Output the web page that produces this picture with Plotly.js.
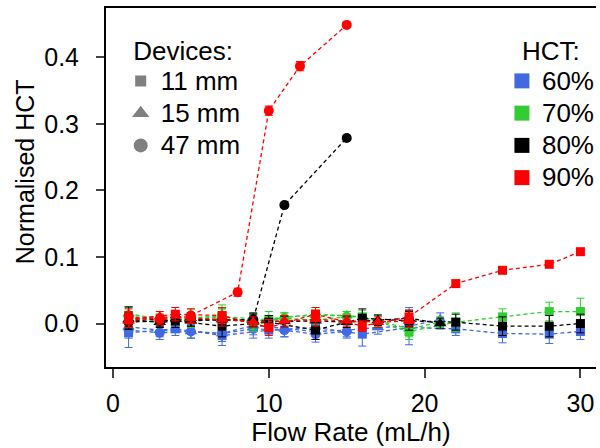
<!DOCTYPE html>
<html>
<head>
<meta charset="utf-8">
<script src="https://cdn.plot.ly/plotly-3.0.1.min.js"></script>
<style>html,body{margin:0;padding:0;background:#fff}#chart{width:600px;height:448px}</style>
</head>
<body>
<div id="chart"></div>
<script>
// Flow rates (mL/h) per device
const flow11 = [1, 4, 7, 10, 13, 16, 19, 22, 25, 28, 30];
const flow15 = [1, 3, 5, 7, 9, 11, 13, 15, 17, 19, 21];
const flow15Red = [1, 3, 5, 7, 9, 11, 13, 15, 17, 19];
const flow47 = [1, 3, 5, 7, 9, 11, 13, 15];
const flow47Black = [1, 3, 5, 7, 9, 11, 15];
const flow47Red = [1, 3, 5, 8, 10, 12, 15];

// HCT 60%
const blue11 = [-0.014, -0.008, -0.018, -0.010, -0.006, -0.016, -0.006, -0.008, -0.015, -0.016, -0.012];
const blue11Err = [0.022, 0.010, 0.015, 0.012, 0.012, 0.018, 0.012, 0.010, 0.014, 0.014, 0.012];
const blue15 = [-0.005, -0.010, -0.012, -0.015, -0.003, -0.008, -0.012, -0.010, -0.006, -0.004, 0.006];
const blue15Err = [0.012, 0.010, 0.010, 0.012, 0.014, 0.012, 0.012, 0.010, 0.010, 0.028, 0.010];
const blue47 = [-0.010, -0.014, -0.012, -0.015, -0.008, -0.010, -0.016, -0.012];
const blue47Err = [0.012, 0.010, 0.010, 0.012, 0.014, 0.010, 0.012, 0.010];

// HCT 70%
const green11 = [0.012, 0.008, 0.010, 0.006, 0.014, 0.010, -0.012, 0.002, 0.010, 0.018, 0.018];
const green11Err = [0.012, 0.010, 0.012, 0.012, 0.010, 0.010, 0.012, 0.014, 0.012, 0.014, 0.020];
const green15 = [0.015, 0.006, 0.004, 0.010, 0.003, 0.010, 0.012, 0.012, 0.004, -0.008, 0.002];
const green15Err = [0.010, 0.008, 0.010, 0.012, 0.012, 0.006, 0.008, 0.006, 0.008, 0.012, 0.008];
const green47 = [0.004, 0.002, 0.008, 0.012, 0.000, 0.008, 0.005, 0.010];
const green47Err = [0.012, 0.008, 0.014, 0.016, 0.012, 0.008, 0.010, 0.008];

// HCT 80%
const black11 = [0.008, 0.004, -0.004, 0.002, -0.010, 0.008, 0.004, 0.002, -0.004, -0.004, 0.000];
const black11Err = [0.017, 0.010, 0.016, 0.010, 0.014, 0.014, 0.014, 0.012, 0.014, 0.016, 0.014];
const black15 = [0.006, 0.002, 0.004, 0.006, 0.004, 0.003, 0.004, 0.002, 0.005, 0.008, 0.000];
const black15Err = [0.010, 0.008, 0.008, 0.010, 0.010, 0.008, 0.010, 0.008, 0.008, 0.012, 0.008];
const black47 = [0.002, 0.004, 0.006, 0.005, 0.006, 0.178, 0.279];
const black47Err = [0.010, 0.008, 0.010, 0.012, 0.010, 0.003, 0.003];

// HCT 90%
const red11 = [0.006, 0.014, 0.012, -0.006, 0.014, -0.004, 0.010, 0.060, 0.080, 0.089, 0.108];
const red11Err = [0.012, 0.010, 0.012, 0.012, 0.010, 0.008, 0.010, 0.003, 0.003, 0.003, 0.003];
const red15 = [0.004, 0.010, 0.008, 0.006, 0.002, 0.004, 0.006, 0.004, 0.002, 0.004];
const red15Err = [0.010, 0.008, 0.008, 0.010, 0.008, 0.008, 0.010, 0.008, 0.008, 0.010];
const red47 = [0.010, 0.006, 0.012, 0.047, 0.320, 0.387, 0.449];
const red47Err = [0.012, 0.008, 0.010, 0.006, 0.007, 0.007, 0.003];

const hctLabels = ['60%', '70%', '80%', '90%'];
const hctColors = ['#4169E1', '#32CD32', '#000000', '#FF0000'];
const deviceLabels = ['11 mm', '15 mm', '47 mm'];
const deviceSymbols = ['square', 'triangle-up', 'circle'];
const deviceSizes = [9, 11, 10];

const seriesTable = [
  [[flow11, blue11, blue11Err], [flow15, blue15, blue15Err], [flow47, blue47, blue47Err]],
  [[flow11, green11, green11Err], [flow15, green15, green15Err], [flow47, green47, green47Err]],
  [[flow11, black11, black11Err], [flow15, black15, black15Err], [flow47Black, black47, black47Err]],
  [[flow11, red11, red11Err], [flow15Red, red15, red15Err], [flow47Red, red47, red47Err]]
];

const FONT = '"Liberation Sans", Arial, sans-serif';
const big = t => '<span style="font-size:26px">' + t + '</span>';
const traces = [];
seriesTable.forEach((devs, h) => {
  devs.forEach((s, d) => {
    traces.push({
      type: 'scatter', mode: 'lines+markers',
      x: s[0], y: s[1],
      error_y: {type: 'data', array: s[2], visible: true, color: hctColors[h], thickness: 1, width: 4},
      line: {color: hctColors[h], width: 1.3, dash: '4px,3px'},
      marker: {color: hctColors[h], symbol: deviceSymbols[d], size: deviceSizes[d]},
      showlegend: false, hoverinfo: 'skip'
    });
  });
});
// Legend entries: devices (gray symbols)
deviceLabels.forEach((lab, d) => {
  traces.push({
    type: 'scatter', mode: 'markers', x: [null], y: [null], name: big(lab),
    marker: {color: '#808080', symbol: deviceSymbols[d], size: [11, 15, 14][d]},
    legend: 'legend', showlegend: true
  });
});
hctLabels.forEach((lab, h) => {
  traces.push({
    type: 'scatter', mode: 'markers', x: [null], y: [null], name: big(lab),
    marker: {color: hctColors[h], symbol: 'square', size: 15},
    legend: 'legend2', showlegend: true
  });
});

const layout = {
  width: 600, height: 448,
  margin: {l: 106, r: 0, t: 8, b: 81},
  paper_bgcolor: '#fff', plot_bgcolor: '#fff',
  font: {family: FONT, size: 21, color: '#000'},
  xaxis: {
    range: [-0.45, 31.0], tickvals: [0, 10, 20, 30], ticks: 'outside', ticklen: 9, tickwidth: 2,
    showline: true, linewidth: 2, linecolor: '#000', mirror: true, showgrid: false, zeroline: false,
    tickfont: {size: 25, family: FONT}, ticklabelstandoff: 4,
    title: {text: 'Flow Rate (mL/h)', font: {size: 26, family: FONT}, standoff: 7}
  },
  yaxis: {
    range: [-0.0654, 0.4744], tickvals: [0, 0.1, 0.2, 0.3, 0.4], tickformat: '.1f',
    ticks: 'outside', ticklen: 8, tickwidth: 2,
    showline: true, linewidth: 2, linecolor: '#000', mirror: false, showgrid: false, zeroline: false,
    tickfont: {size: 25, family: FONT}, ticklabelstandoff: 12
  },
  annotations: [{
    text: 'Normalised HCT', textangle: -90, showarrow: false,
    xref: 'paper', yref: 'paper', x: -0.165, y: 0.543, xanchor: 'center', yanchor: 'middle',
    font: {size: 25, family: FONT, color: '#000'}
  }],
  legend: {
    x: 0.03, y: 0.95, xanchor: 'left', yanchor: 'top', bgcolor: 'rgba(0,0,0,0)',
    title: {text: 'Devices:', font: {size: 26, family: FONT}, side: 'top center'},
    font: {size: 22.5, family: FONT}, itemwidth: 30
  },
  legend2: {
    x: 0.808, y: 0.95, xanchor: 'left', yanchor: 'top', bgcolor: 'rgba(0,0,0,0)',
    title: {text: 'HCT:', font: {size: 26, family: FONT}, side: 'top center'},
    font: {size: 22.5, family: FONT}, itemwidth: 30
  },
  showlegend: true
};

Plotly.newPlot('chart', traces, layout, {displayModeBar: false, staticPlot: true});
</script>
</body>
</html>
